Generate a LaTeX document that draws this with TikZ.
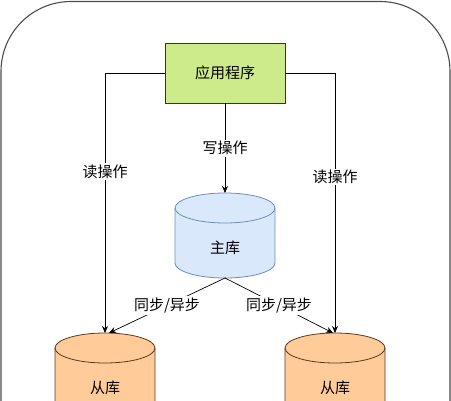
\documentclass[tikz,border=0pt]{standalone}
\usepackage{fontspec}
\setmainfont{Noto Sans CJK SC}
\usepackage{xcolor}
\usetikzlibrary{arrows.meta, positioning}
\definecolor{appgreen}{HTML}{CDEB8B}
\definecolor{mainblue}{HTML}{DAE8FC}
\definecolor{mainedge}{HTML}{6C8EBF}
\definecolor{slaveorange}{HTML}{FFCC99}
\definecolor{slaveedge}{HTML}{5A3A1E}
\tikzset{ % global config
    >={Stealth[length=7pt, width=6pt]}, % arrow heads like the drawing
    every node/.style={font=\fontsize{15}{18}\selectfont}, % one text size
    frame/.style={draw=black!70, line width=1.1pt, rounded corners=70pt},
    app/.style={draw=black!80, fill=appgreen, minimum width=120pt, minimum height=60pt, inner sep=0pt},
    master/.style={draw=mainedge, fill=mainblue, line width=0.8pt},
    slave/.style={draw=slaveedge, fill=slaveorange, line width=0.8pt},
    op/.style={fill=white, inner sep=1.5pt}, % label on a connector
    link/.style={->, line width=0.7pt},
}
% database drum: name, centre x, top y, style, text
\newcommand{\dbcyl}[5]{%
    \draw[#4] (#2-50,#3+15) -- (#2-50,#3+70) arc (180:360:50pt and 15pt)
        -- (#2+50,#3+15) arc (0:180:50pt and 15pt) -- cycle;
    \draw[#4, fill=none] (#2-50,#3+15) arc (180:360:50pt and 15pt);
    \coordinate (#1-top) at (#2,#3);
    \coordinate (#1-bot) at (#2,#3+85);
    \node (#1) at (#2,#3+55) {#5};
}

\begin{document}
\begin{tikzpicture}[x=1pt, y=-1pt]

    \useasboundingbox (0,0) rectangle (451,400);
    \clip (0,0) rectangle (451,400);
    \draw[frame] (1,1.5) rectangle (450,480);

    \node[app] (app) at (225,73) {应用程序};
    \dbcyl{zhu}{225}{193}{master}{主库}
    \dbcyl{cong1}{105}{333}{slave}{从库}
    \dbcyl{cong2}{335}{333}{slave}{从库}

    \draw[link] (app.west) -| node[op, pos=0.69] {读操作} (cong1-top);
    \draw[link] (app.east) -| node[op, pos=0.70] {读操作} (cong2-top);
    \draw[link] (app.south) -- node[op, midway] {写操作} (zhu-top);
    \draw[link] (zhu-bot) -- node[op, midway] {同步/异步} ([xshift=4pt]cong1-top);
    \draw[link] (zhu-bot) -- node[op, midway] {同步/异步} ([xshift=-2pt]cong2-top);

\end{tikzpicture}
\end{document}
